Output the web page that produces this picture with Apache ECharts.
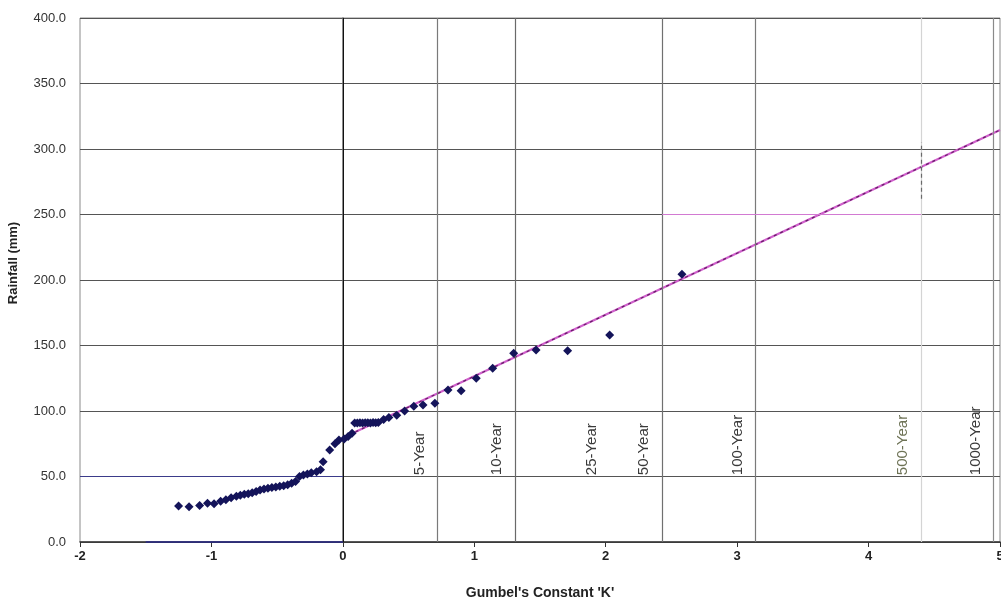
<!DOCTYPE html>
<html>
<head>
<meta charset="utf-8">
<script src="https://cdn.jsdelivr.net/npm/echarts@6/dist/echarts.min.js"></script>
<style>
  html, body { margin: 0; padding: 0; background: #ffffff; }
  #chart { width: 1001px; height: 605px; }
</style>
</head>
<body>
<div id="chart"></div>
<script>
// Annual maximum rainfall plotted against Gumbel's frequency factor K
const gumbelK = [
  -1.25, -1.17, -1.09, -1.03, -0.98, -0.93, -0.89, -0.85, -0.81, -0.78,
  -0.75, -0.72, -0.69, -0.66, -0.63, -0.60, -0.57, -0.54, -0.51, -0.48,
  -0.45, -0.42, -0.39, -0.36, -0.33, -0.30, -0.27, -0.24, -0.20, -0.17,
  -0.15, -0.10, -0.06, -0.03, 0.01, 0.04, 0.07,
  0.09, 0.11, 0.13, 0.15, 0.17, 0.19, 0.21, 0.23, 0.25, 0.27,
  0.31, 0.35, 0.41, 0.47, 0.54, 0.61, 0.70, 0.80, 0.90, 1.015,
  1.14, 1.30, 1.47, 1.71, 2.03, 2.58
];
const rainfall = [
  27.5, 27.0, 27.8, 29.5, 29.2, 31.2, 32.2, 33.8, 35.0, 35.7,
  36.4, 36.8, 37.6, 38.6, 39.6, 40.4, 41.0, 41.6, 42.0, 42.5,
  43.0, 43.7, 44.8, 46.2, 50.0, 51.2, 52.0, 52.8, 53.7, 55.2,
  61.2, 70.2, 75.0, 77.8, 78.6, 80.5, 83.0,
  90.8, 90.9, 91.0, 90.8, 91.0, 91.1, 90.9, 91.2, 91.0, 91.3,
  93.5, 95.0, 96.8, 100.0, 103.6, 104.6, 105.9, 116.0, 115.5, 125.0,
  132.6, 144.0, 146.6, 146.0, 158.0, 204.3
];

// Fitted Gumbel distribution line (mean + K * standard deviation)
const fitK = [0, 5];
const fitRain = [79.5, 314.5];

// Return periods and their frequency factors
const periodNames = ['5-Year', '10-Year', '25-Year', '50-Year', '100-Year', '500-Year', '1000-Year'];
const periodK = [0.72, 1.31, 2.03, 2.43, 3.14, 4.40, 4.95];
const periodLineColors = ['#7a7a7a', '#6a6a6a', 'rgba(0,0,0,0)', '#707070', '#7a7a7a', '#d4d4d4', '#8a8a8a'];
const periodTextColors = ['#3a3a3a', '#3a3a3a', '#3a3a3a', '#3a3a3a', '#3a3a3a', '#6e7356', '#3a3a3a'];
const periodLabelBase = 51;

// Axis ranges
const xMin = -2, xMax = 5, xStep = 1;
const yMin = 0, yMax = 400, yStep = 50;

const chart = echarts.init(document.getElementById('chart'), null, { renderer: 'canvas' });

const points = gumbelK.map((k, i) => [k, rainfall[i]]);
const fitLine = fitK.map((k, i) => [k, fitRain[i]]);

const periodMarkLines = [{ xAxis: 0, lineStyle: { color: '#111111', width: 1, type: 'solid' } }]
  .concat(periodK.map((k, i) => ({
    xAxis: k,
    lineStyle: { color: periodLineColors[i], width: 1.2, type: 'solid' }
  })));

const option = {
  backgroundColor: '#ffffff',
  animation: false,
  grid: {
    left: 80, right: 1, top: 18, bottom: 63,
    outerBoundsMode: 'none', containLabel: false,
    show: true, borderColor: '#8a8a8a', borderWidth: 1, backgroundColor: 'transparent'
  },
  xAxis: {
    type: 'value', min: xMin, max: xMax, interval: xStep,
    name: "Gumbel's Constant 'K'",
    nameLocation: 'middle', nameGap: 44,
    nameTextStyle: { fontFamily: 'Liberation Sans', fontWeight: 'bold', fontSize: 14, color: '#222' },
    axisLine: { show: true, onZero: false, lineStyle: { color: '#333', width: 1.5 } },
    axisTick: { show: true, length: 5, lineStyle: { color: '#333' } },
    axisLabel: { margin: 8, fontFamily: 'Liberation Sans', fontWeight: 'bold', fontSize: 13, color: '#222' },
    splitLine: { show: false }
  },
  yAxis: {
    type: 'value', min: yMin, max: yMax, interval: yStep,
    name: 'Rainfall (mm)',
    nameLocation: 'middle', nameGap: 60, nameRotate: 90,
    nameTextStyle: { fontFamily: 'Liberation Sans', fontWeight: 'bold', fontSize: 13, color: '#222', padding: [0, 0, 0, 34] },
    axisLine: { show: true, lineStyle: { color: '#666', width: 1.5 } },
    axisTick: { show: false },
    axisLabel: {
      margin: 14, fontFamily: 'Liberation Sans', fontSize: 13, color: '#333',
      formatter: v => v.toFixed(1)
    },
    splitLine: { show: true, lineStyle: { color: '#555', width: 1 } }
  },
  series: [
    {
      // return period verticals
      type: 'line', data: [], silent: true,
      markLine: { silent: true, symbol: 'none', label: { show: false }, data: periodMarkLines }
    },
    {
      // tinted segments on the grid
      type: 'line', data: [], silent: true,
      markLine: {
        silent: true, symbol: 'none', label: { show: false },
        data: [
          [{ coord: [-2, 50], lineStyle: { color: '#3b3b8a', width: 1.2, type: 'solid' } }, { coord: [0, 50] }],
          [{ coord: [-1.5, 0], lineStyle: { color: '#2a2a8a', width: 1.6, type: 'solid' } }, { coord: [0, 0] }],
          [{ coord: [2.43, 250], lineStyle: { color: '#d27ad2', width: 1.2, type: 'solid' } }, { coord: [4.40, 250] }],
          [{ coord: [4.40, 262], lineStyle: { color: '#6a6a6a', width: 1.2, type: [4, 3] } }, { coord: [4.40, 305] }]
        ]
      }
    },
    {
      // fitted distribution
      type: 'line', data: fitLine, symbol: 'none', silent: true, z: 3,
      lineStyle: { color: '#d060cc', width: 2.2 }
    },
    {
      type: 'line', data: fitLine, symbol: 'none', silent: true, z: 4,
      lineStyle: { color: '#6a1f6a', width: 1.3, type: [3, 4] }
    },
    {
      // observed annual maxima
      type: 'scatter', data: points, symbol: 'diamond', symbolSize: 9, z: 5,
      itemStyle: { color: '#14145a', opacity: 1 }
    },
    {
      // rotated return period captions
      type: 'custom', silent: true, z: 6,
      data: periodK.map((k, i) => [k, periodLabelBase, i]),
      renderItem: (params, api) => {
        const p = api.coord([api.value(0), api.value(1)]);
        const idx = api.value(2);
        return {
          type: 'text',
          x: p[0] - 18, y: p[1],
          rotation: Math.PI / 2,
          style: {
            text: periodNames[idx],
            fill: periodTextColors[idx],
            font: '15px "Liberation Sans"',
            align: 'left', verticalAlign: 'middle'
          }
        };
      }
    }
  ]
};

chart.setOption(option);
</script>
</body>
</html>
